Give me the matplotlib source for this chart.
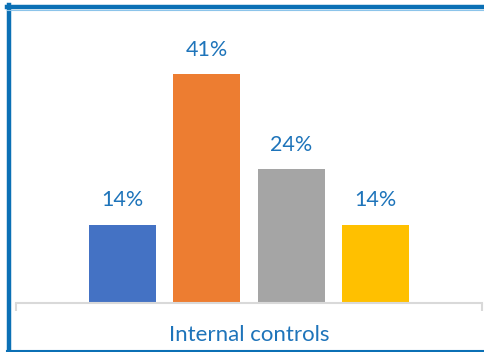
import matplotlib.pyplot as plt
from matplotlib.lines import Line2D

category = "Internal controls"
series = ["S1", "S2", "S3", "S4"]
shares = [0.14, 0.41, 0.24, 0.14]
labels = ["14%", "41%", "24%", "14%"]
colors = ["#4472C4", "#ED7D31", "#A5A5A5", "#FFC000"]

plt.rcParams["font.family"] = ["Lato", "DejaVu Sans"]
txt_col = "#1E74BA"
border_col = "#0B70B5"

W, H = 485, 352
fig = plt.figure(figsize=(W / 100, H / 100), dpi=100)

# plot area in pixels: x 16..482, y 10..302.5 (from top)
x0, x1, ytop, ybase = 16, 482, 10, 302.5
ax = fig.add_axes([x0 / W, 1 - ybase / H, (x1 - x0) / W, (ybase - ytop) / H])

spacing = 84.5
half = (x1 - x0) / 2 / spacing
pos = [i - (len(shares) - 1) / 2 for i in range(len(shares))]
ax.bar(pos, shares, width=0.793, color=colors)
ax.set_xlim(-half, half)
ax.set_ylim(0, (ybase - ytop) / 557)

for x, v, lab in zip(pos, shares, labels):
    ax.annotate(lab, (x, v), xytext=(0, 17.5), textcoords="offset points",
                ha="center", va="center", fontsize=15.5, color=txt_col)

for s in ["top", "right", "left"]:
    ax.spines[s].set_visible(False)
ax.spines["bottom"].set_color("#D9D9D9")
ax.spines["bottom"].set_linewidth(1.5)
ax.set_yticks([])
ax.set_xticks([0], labels=[category])
ax.tick_params(axis="x", length=0, pad=16, labelsize=16, labelcolor=txt_col)
ax.set_xticks([-half, half], minor=True)
ax.tick_params(axis="x", which="minor", length=6, width=1.5, color="#D9D9D9")

# frame around the chart (left, top, bottom visible in the crop)
fig.add_artist(Line2D([9 / W, 9 / W], [0, 1 - 5 / H], color=border_col, lw=3.2))
fig.add_artist(Line2D([7 / W, 1], [1 - 7 / H, 1 - 7 / H], color=border_col, lw=3.2))
fig.add_artist(Line2D([7 / W, 1], [1 - 10 / H, 1 - 10 / H], color="#8CC4EA", lw=0.8))
fig.add_artist(Line2D([7 / W, 1], [1 - 351 / H, 1 - 351 / H], color=border_col, lw=1.5))

fig.savefig("out.png", dpi=100)
